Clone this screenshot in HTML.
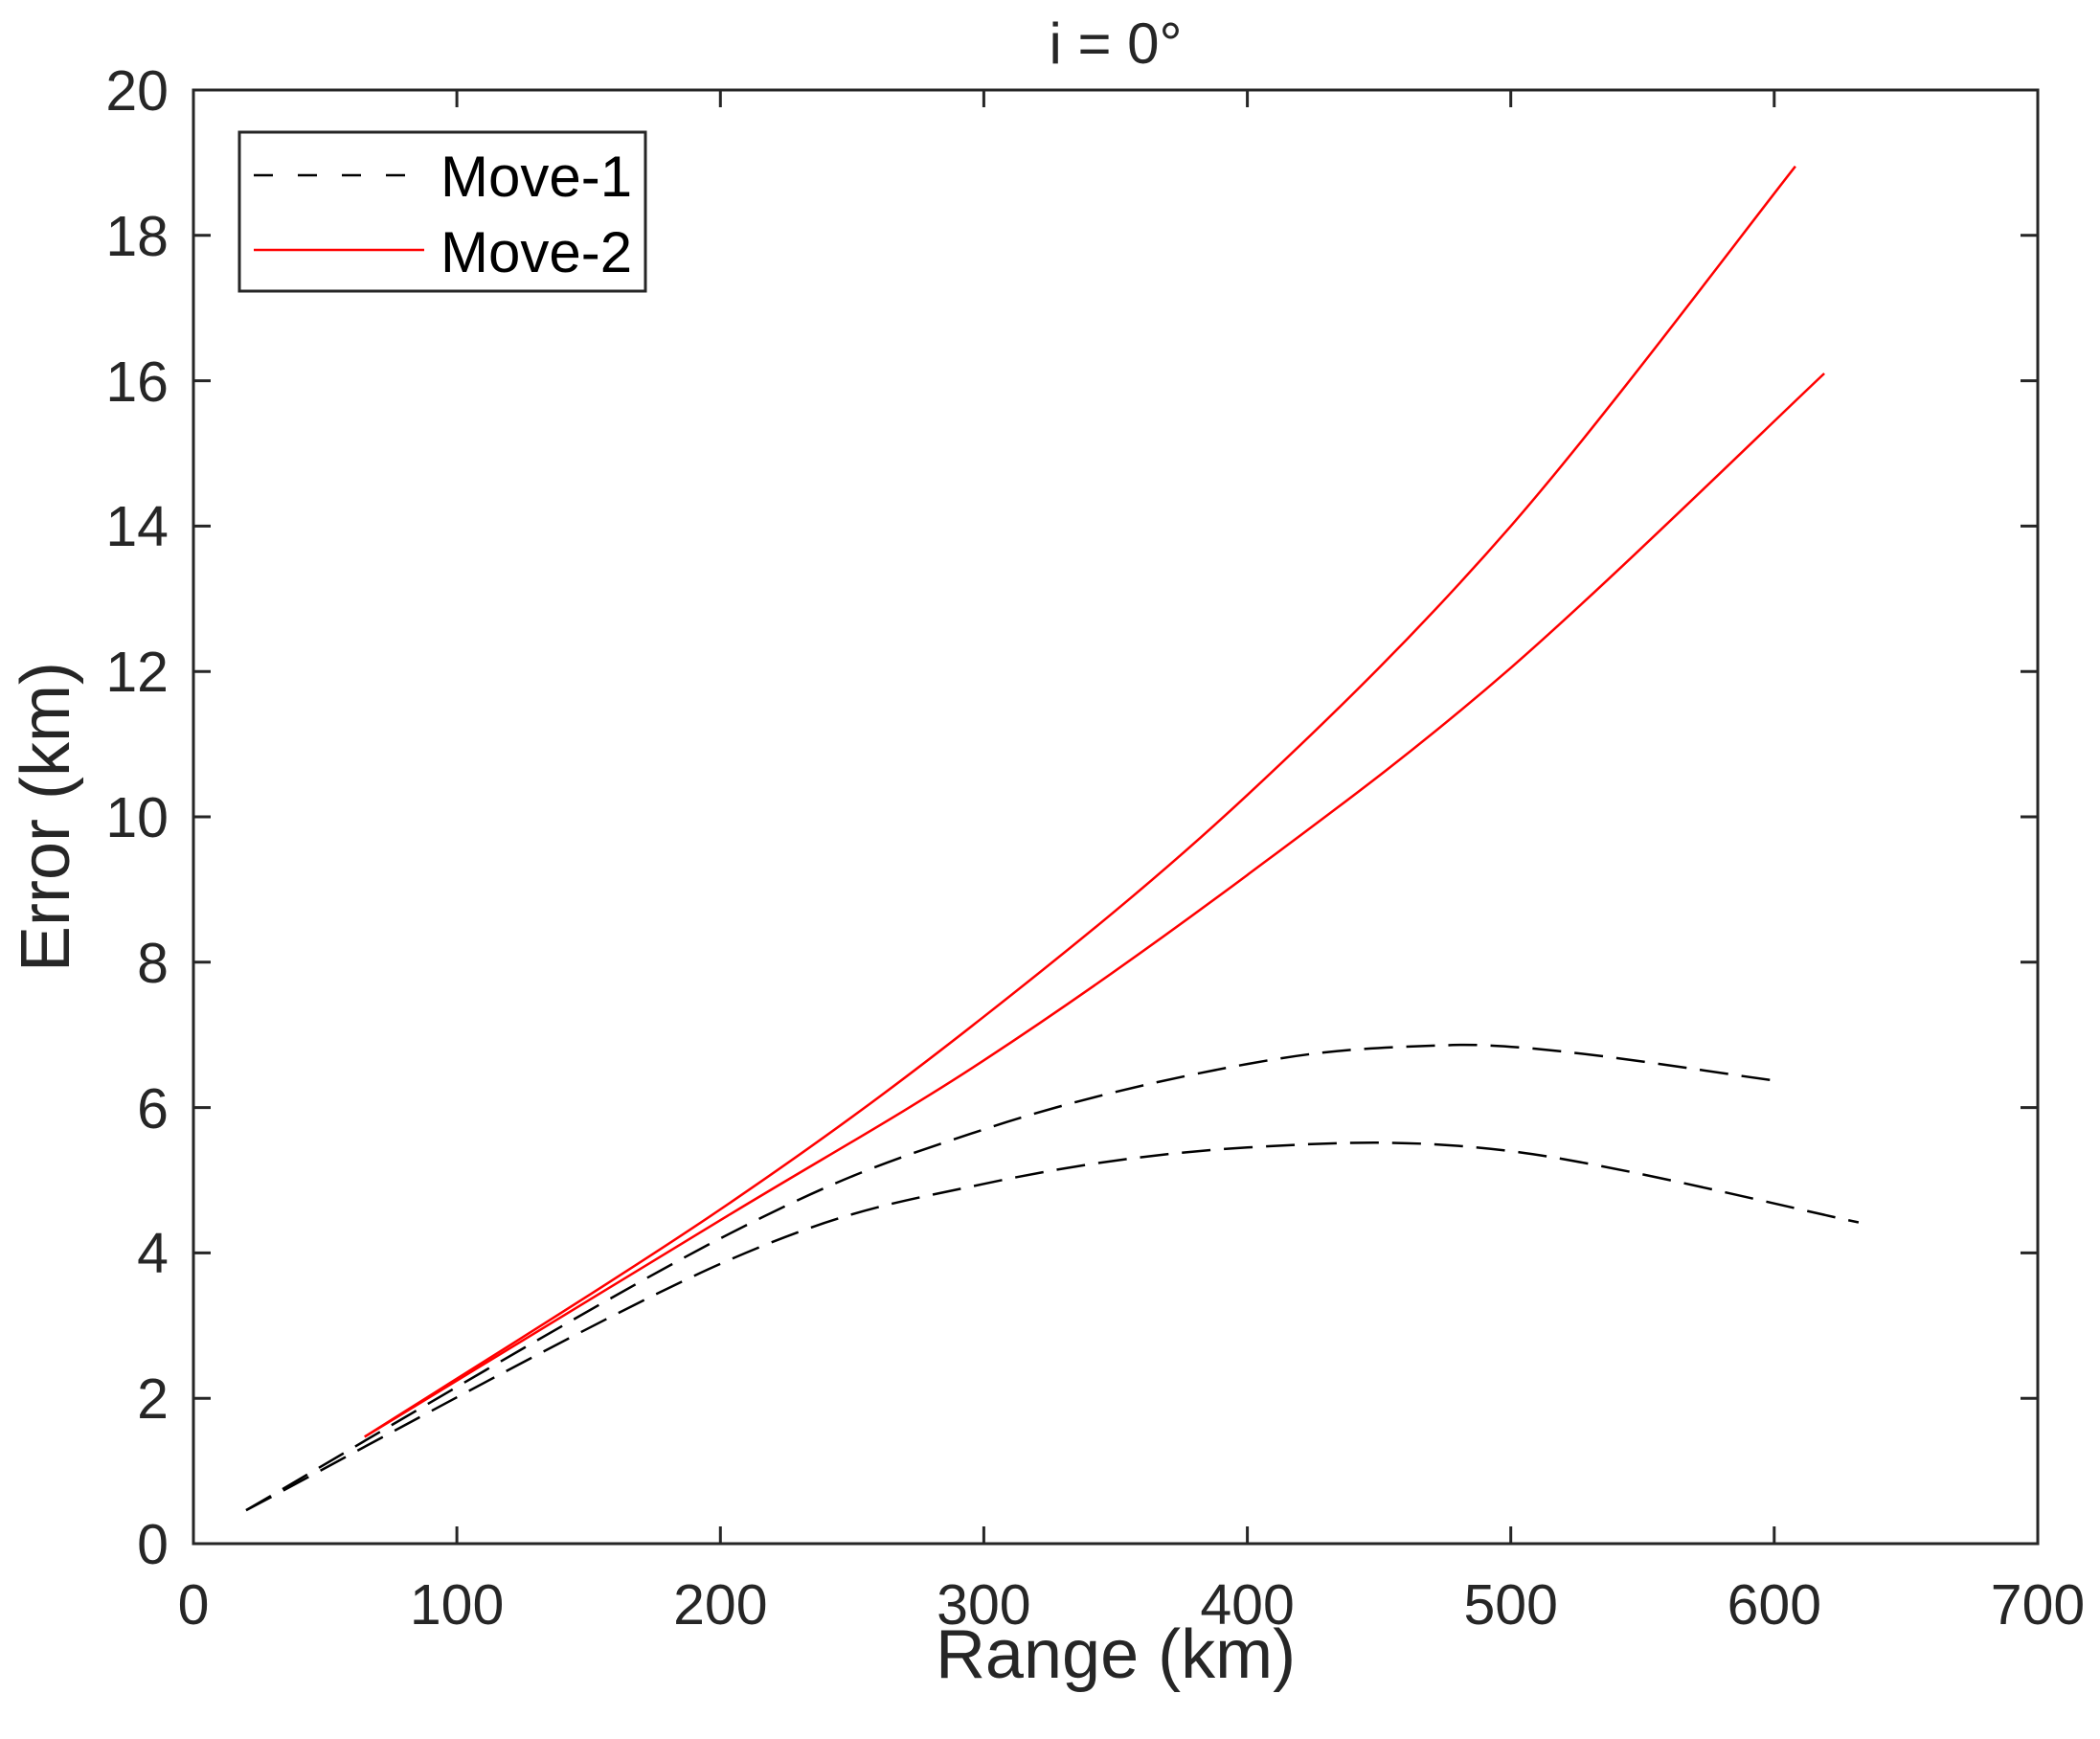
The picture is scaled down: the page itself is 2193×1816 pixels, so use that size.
<!DOCTYPE html>
<html><head><meta charset="utf-8"><style>html,body{margin:0;padding:0;background:#fff}svg{display:block}</style></head>
<body>
<svg width="2193" height="1816" viewBox="0 0 2193 1816" xmlns="http://www.w3.org/2000/svg" font-family="Liberation Sans, Arial, sans-serif" fill="#262626">
<rect x="0" y="0" width="2193" height="1816" fill="#fff"/>
<g stroke="#262626" stroke-width="3" fill="none">
<rect x="202" y="94" width="1926" height="1518"/>
<path d="M477.1 1612v-18M752.3 1612v-18M1027.4 1612v-18M1302.6 1612v-18M1577.7 1612v-18M1852.8 1612v-18
M477.1 94v18M752.3 94v18M1027.4 94v18M1302.6 94v18M1577.7 94v18M1852.8 94v18
M202 1460.2h18M202 1308.4h18M202 1156.6h18M202 1004.8h18M202 853h18M202 701.2h18M202 549.4h18M202 397.6h18M202 245.8h18
M2128 1460.2h-18M2128 1308.4h-18M2128 1156.6h-18M2128 1004.8h-18M2128 853h-18M2128 701.2h-18M2128 549.4h-18M2128 397.6h-18M2128 245.8h-18"/>
</g>
<g font-size="59" text-anchor="middle">
<text x="202" y="1696">0</text><text x="477.1" y="1696">100</text><text x="752.3" y="1696">200</text><text x="1027.4" y="1696">300</text><text x="1302.6" y="1696">400</text><text x="1577.7" y="1696">500</text><text x="1852.8" y="1696">600</text><text x="2128" y="1696">700</text>
</g>
<g font-size="59" text-anchor="end">
<text x="176" y="1633">0</text><text x="176" y="1481">2</text><text x="176" y="1329">4</text><text x="176" y="1178">6</text><text x="176" y="1026">8</text><text x="176" y="874">10</text><text x="176" y="722">12</text><text x="176" y="570">14</text><text x="176" y="419">16</text><text x="176" y="267">18</text><text x="176" y="115">20</text>
</g>
<text x="1165" y="66" font-size="60" text-anchor="middle">i = 0°</text>
<text x="1165" y="1752" font-size="72" text-anchor="middle">Range (km)</text>
<text transform="translate(72,853) rotate(-90)" font-size="72" text-anchor="middle">Error (km)</text>
<g fill="none" stroke-width="2.5" stroke-linejoin="round">
<path stroke="#ff0000" d="M380.8,1500.4 C442.7,1460.8 644.5,1336.0 752.3,1262.9 C860.1,1189.8 935.7,1133.8 1027.4,1061.7 C1119.1,989.6 1210.9,915.6 1302.6,830.2 C1394.3,744.8 1482.3,658.8 1577.7,549.4 C1673.1,440.0 1825.4,236.3 1874.9,173.7"/>
<path stroke="#ff0000" d="M380.8,1500.4 C442.7,1462.7 644.5,1339.7 752.3,1274.2 C860.1,1208.7 935.7,1167.4 1027.4,1107.3 C1119.1,1047.2 1210.9,982.0 1302.6,913.7 C1394.3,845.4 1477.3,784.7 1577.7,697.4 C1678.1,610.1 1850.5,441.2 1905.1,390.0"/>
<path stroke="#000" stroke-dasharray="30 14" d="M257,1577.1 C339.6,1529.8 623.9,1359.5 752.3,1293.2 C880.7,1226.9 935.7,1209.8 1027.4,1179.4 C1119.1,1149.0 1221.0,1125.8 1302.6,1111.1 C1384.2,1096.4 1424.1,1094.3 1517.2,1091.3 C1610.3,1088.3 1803.8,1123.0 1861.1,1129.3"/>
<path stroke="#000" stroke-dasharray="30 14" d="M257,1577.1 C339.6,1534.2 623.9,1376.6 752.3,1319.8 C880.7,1263.1 935.7,1256.0 1027.4,1236.3 C1119.1,1216.6 1210.9,1203.7 1302.6,1198.3 C1394.3,1192.9 1471.3,1189.1 1577.7,1202.1 C1684.1,1215.1 1880.4,1264.1 1940.9,1276.5"/>
</g>
<rect x="250" y="138" width="424" height="166" fill="#fff" stroke="#262626" stroke-width="3"/>
<line x1="265" y1="183" x2="433" y2="183" stroke="#000" stroke-width="2.5" stroke-dasharray="20 26"/>
<line x1="265" y1="261" x2="443" y2="261" stroke="#ff0000" stroke-width="2.5"/>
<g font-size="60" fill="#000"><text x="460" y="205">Move-1</text><text x="460" y="284">Move-2</text></g>
</svg>
</body></html>
